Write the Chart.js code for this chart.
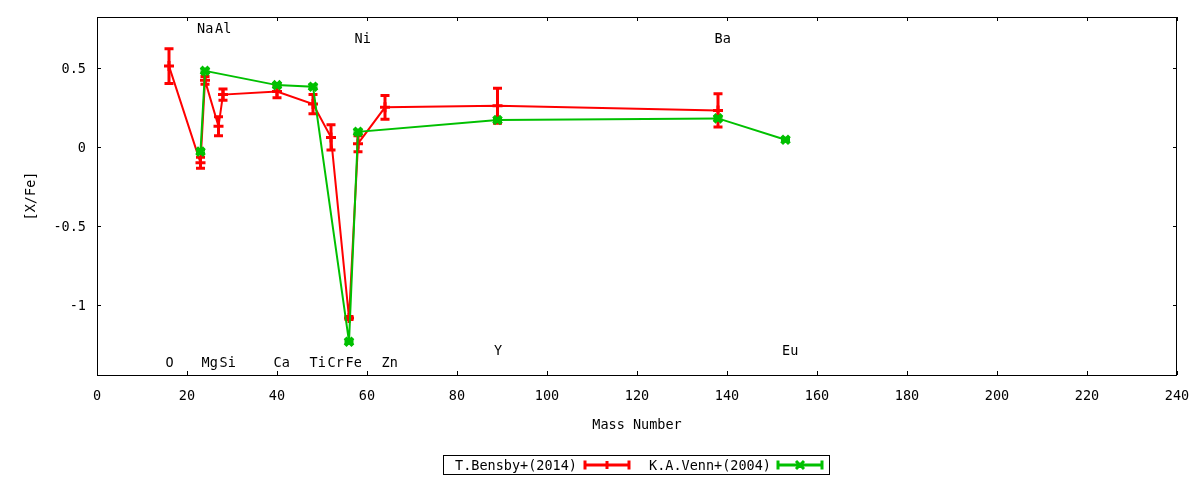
<!DOCTYPE html>
<html>
<head>
<meta charset="utf-8">
<title>[X/Fe] vs Mass Number</title>
<script src="https://cdn.jsdelivr.net/npm/chart.js@4.4.0/dist/chart.umd.min.js"></script>
<style>
  html, body { margin: 0; padding: 0; background: #fff; }
  #wrap { width: 1200px; height: 480px; }
</style>
</head>
<body>
<div id="wrap"><canvas id="chart" width="1200" height="480"></canvas></div>
<script>
// T.Bensby+(2014)
const bensbyMass = [16, 23, 24, 27, 28, 40, 48, 52, 56, 58, 64, 89, 138];
const bensbyVal  = [0.51, -0.10, 0.42, 0.13, 0.33, 0.35, 0.27, 0.06, -1.08, 0.02, 0.25, 0.26, 0.23];
const bensbyErr  = [0.11, 0.035, 0.025, 0.06, 0.035, 0.04, 0.06, 0.08, 0.01, 0.05, 0.075, 0.11, 0.105];

// K.A.Venn+(2004)
const vennMass = [23, 24, 40, 48, 56, 58, 89, 138, 153];
const vennVal  = [-0.03, 0.48, 0.39, 0.38, -1.23, 0.095, 0.17, 0.18, 0.045];
const vennErr  = [0.01, 0.01, 0.01, 0.01, 0.01, 0.01, 0.01, 0.01, 0.01];

// element names written inside the plot
const elemNames  = ['O', 'Na', 'Mg', 'Al', 'Si', 'Ca', 'Ti', 'Cr', 'Fe', 'Ni', 'Zn', 'Y', 'Ba', 'Eu'];
const elemMass   = [16, 23, 24, 27, 28, 40, 48, 52, 56, 58, 64, 89, 138, 153];
const elemLabelY = [-1.36, 0.75, -1.36, 0.75, -1.36, -1.36, -1.36, -1.36, -1.36, 0.69, -1.36, -1.28, 0.69, -1.28];

const xTicks = [0, 20, 40, 60, 80, 100, 120, 140, 160, 180, 200, 220, 240];
const yTicks = [-1, -0.5, 0, 0.5];

const RED = '#ff0000';
const GREEN = '#00c000';
const FONT = "'DejaVu Sans Mono', monospace";
const FSIZE = 13.5;

function toPoints(xs, ys) {
  return xs.map((x, i) => ({ x: x, y: ys[i] }));
}

// error bars, frame, mirrored ticks, element labels and the boxed key
const gnuplotLook = {
  id: 'gnuplotLook',
  afterDatasetDraw(chart, args) {
    const ds = chart.data.datasets[args.index];
    const xs = chart.scales.x, ys = chart.scales.y;
    const ctx = chart.ctx;
    ctx.save();
    ctx.strokeStyle = ds.borderColor;
    ctx.lineWidth = 3;
    ds.data.forEach((p, i) => {
      const e = ds.errors[i];
      const px = xs.getPixelForValue(p.x);
      const top = ys.getPixelForValue(p.y + e);
      const bot = ys.getPixelForValue(p.y - e);
      ctx.beginPath();
      ctx.moveTo(px, top); ctx.lineTo(px, bot);
      ctx.moveTo(px - 4.5, top); ctx.lineTo(px + 4.5, top);
      ctx.moveTo(px - 4.5, bot); ctx.lineTo(px + 4.5, bot);
      ctx.stroke();
    });
    ctx.restore();
  },
  afterDraw(chart) {
    const ctx = chart.ctx;
    const a = chart.chartArea;
    const xs = chart.scales.x, ys = chart.scales.y;
    ctx.save();

    // frame
    ctx.strokeStyle = '#000';
    ctx.lineWidth = 1;
    ctx.strokeRect(Math.round(a.left) + 0.5, Math.round(a.top) + 0.5,
                   Math.round(a.right - a.left) - 1, Math.round(a.bottom - a.top));

    // inward ticks on all sides
    const tl = 4;
    ctx.beginPath();
    xTicks.forEach(v => {
      const px = Math.round(xs.getPixelForValue(v)) + 0.5;
      ctx.moveTo(px, a.bottom); ctx.lineTo(px, a.bottom - tl);
      ctx.moveTo(px, a.top); ctx.lineTo(px, a.top + tl);
    });
    yTicks.forEach(v => {
      const py = Math.round(ys.getPixelForValue(v)) + 0.5;
      ctx.moveTo(a.left, py); ctx.lineTo(a.left + tl, py);
      ctx.moveTo(a.right, py); ctx.lineTo(a.right - tl, py);
    });
    ctx.stroke();

    // element labels
    ctx.fillStyle = '#000';
    ctx.font = FSIZE + 'px ' + FONT;
    ctx.textAlign = 'left';
    ctx.textBaseline = 'middle';
    elemNames.forEach((n, i) => {
      ctx.fillText(n, xs.getPixelForValue(elemMass[i]) - 3.5, ys.getPixelForValue(elemLabelY[i]) + 1.5);
    });

    // key box
    ctx.strokeRect(443.5, 455.5, 386, 19);
    ctx.textAlign = 'right';
    const keys = [
      { text: chart.data.datasets[0].label, color: RED, tx: 577, x0: 585, x1: 629, mark: 'plus' },
      { text: chart.data.datasets[1].label, color: GREEN, tx: 771, x0: 778, x1: 822, mark: 'x' }
    ];
    keys.forEach(k => {
      const y = 465;
      ctx.fillStyle = '#000';
      ctx.fillText(k.text, k.tx, y + 1);
      ctx.strokeStyle = k.color;
      ctx.lineWidth = 3;
      ctx.beginPath();
      ctx.moveTo(k.x0, y); ctx.lineTo(k.x1, y);
      ctx.moveTo(k.x0, y - 4.5); ctx.lineTo(k.x0, y + 4.5);
      ctx.moveTo(k.x1, y - 4.5); ctx.lineTo(k.x1, y + 4.5);
      const mx = (k.x0 + k.x1) / 2;
      if (k.mark === 'plus') {
        ctx.moveTo(mx, y - 4); ctx.lineTo(mx, y + 4);
      } else {
        ctx.moveTo(mx - 4, y - 4); ctx.lineTo(mx + 4, y + 4);
        ctx.moveTo(mx - 4, y + 4); ctx.lineTo(mx + 4, y - 4);
      }
      ctx.stroke();
    });
    ctx.restore();
  }
};

const ctx = document.getElementById('chart').getContext('2d');
new Chart(ctx, {
  type: 'scatter',
  data: {
    datasets: [
      {
        label: 'T.Bensby+(2014)',
        data: toPoints(bensbyMass, bensbyVal),
        errors: bensbyErr,
        showLine: true,
        borderColor: RED,
        backgroundColor: RED,
        borderWidth: 2,
        pointStyle: 'cross',
        pointRadius: 5,
        pointBorderWidth: 3,
        order: 1
      },
      {
        label: 'K.A.Venn+(2004)',
        data: toPoints(vennMass, vennVal),
        errors: vennErr,
        showLine: true,
        borderColor: GREEN,
        backgroundColor: GREEN,
        borderWidth: 2,
        pointStyle: 'crossRot',
        pointRadius: 5.5,
        pointBorderWidth: 4,
        order: 0
      }
    ]
  },
  options: {
    responsive: false,
    animation: false,
    layout: { padding: { top: 17, right: 23, left: 0, bottom: 0 } },
    plugins: {
      legend: { display: false },
      tooltip: { enabled: false }
    },
    scales: {
      x: {
        type: 'linear',
        min: 0,
        max: 240,
        grid: { display: false, drawTicks: false },
        border: { display: false },
        ticks: {
          stepSize: 20,
          padding: 13,
          color: '#000',
          font: { family: FONT, size: FSIZE },
          maxRotation: 0
        },
        afterBuildTicks: s => { s.ticks = xTicks.map(v => ({ value: v })); },
        afterFit: s => { s.height = 105; s.paddingLeft = 0; s.paddingRight = 0; },
        title: {
          display: true,
          text: 'Mass Number',
          color: '#000',
          font: { family: FONT, size: FSIZE },
          padding: { top: 0, bottom: 46 }
        }
      },
      y: {
        type: 'linear',
        min: -1.44,
        max: 0.82,
        grid: { display: false, drawTicks: false },
        border: { display: false },
        ticks: {
          padding: 11,
          labelOffset: 1.5,
          color: '#000',
          font: { family: FONT, size: FSIZE },
          callback: v => String(v)
        },
        afterBuildTicks: s => { s.ticks = yTicks.map(v => ({ value: v })); },
        afterFit: s => { s.width = 97; s.paddingTop = 0; s.paddingBottom = 0; },
        title: {
          display: true,
          text: '[X/Fe]',
          color: '#000',
          font: { family: FONT, size: FSIZE },
          padding: { top: 23, bottom: 0 }
        }
      }
    }
  },
  plugins: [gnuplotLook]
});
</script>
</body>
</html>
